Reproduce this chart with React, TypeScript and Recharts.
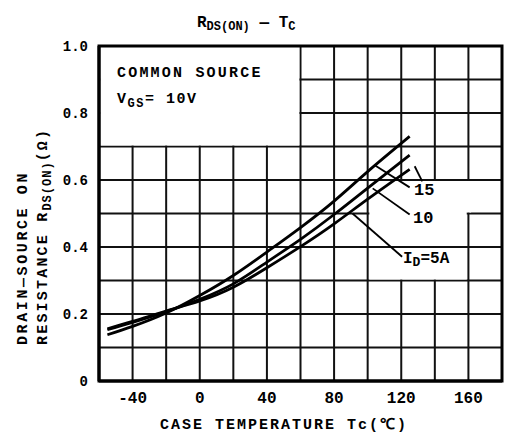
import { LineChart, Line, XAxis, YAxis, CartesianGrid, ReferenceArea, ReferenceLine } from 'recharts';

const temps = [-55, -40, -20, 0, 20, 40, 60, 80, 100, 125];
const id15 = [0.138, 0.163, 0.203, 0.255, 0.315, 0.385, 0.458, 0.537, 0.625, 0.73];
const id10 = [0.153, 0.175, 0.207, 0.244, 0.29, 0.355, 0.423, 0.497, 0.576, 0.674];
const id5 = [0.156, 0.178, 0.209, 0.239, 0.28, 0.338, 0.401, 0.469, 0.543, 0.632];

const xTicks = [-60, -40, -20, 0, 20, 40, 60, 80, 100, 120, 140, 160, 180];
const xLabelled = [-40, 0, 40, 80, 120, 160];
const yTicks = [0, 0.1, 0.2, 0.3, 0.4, 0.5, 0.6, 0.7, 0.8, 0.9, 1.0];
const yLabelled = [0, 0.2, 0.4, 0.6, 0.8, 1.0];

// blank patches in the grid (legend box, curve labels)
const blanks = [
  { x1: -59.3, x2: 59.3, y1: 0.703, y2: 0.997 },
  { x1: 101, x2: 159, y1: 0.403, y2: 0.597 },
  { x1: 159, x2: 161.6, y1: 0.503, y2: 0.597 },
  { x1: 101, x2: 159, y1: 0.303, y2: 0.397 },
];

// leader lines from curves to their labels
const leaders = [
  [{ x: 104, y: 0.645 }, { x: 125, y: 0.578 }],
  [{ x: 128, y: 0.641 }, { x: 132.5, y: 0.596 }],
  [{ x: 103, y: 0.575 }, { x: 125, y: 0.497 }],
  [{ x: 91, y: 0.5 }, { x: 120.5, y: 0.371 }],
];

const data = temps.map((t, i) => ({ t, a15: id15[i], a10: id10[i], a5: id5[i] }));

const font = '"Liberation Mono", "DejaVu Sans Mono", monospace';

export default function App() {
  return (
    <div style={{ position: 'absolute', left: 0, top: 0, width: 506, height: 435, background: '#fff' }}>
      <LineChart width={506} height={435} data={data} margin={{ top: 46, right: 4, bottom: 0, left: 0 }}>
        <CartesianGrid stroke="#111" strokeWidth={2} />
        {blanks.map((b, i) => (
          <ReferenceArea key={i} x1={b.x1} x2={b.x2} y1={b.y1} y2={b.y2} fill="#fff" fillOpacity={1} stroke="none" />
        ))}
        <ReferenceArea x1={-60} x2={180} y1={0} y2={1} fill="none" stroke="#000" strokeWidth={3} />
        <XAxis
          dataKey="t"
          type="number"
          domain={[-60, 180]}
          ticks={xTicks}
          interval={0}
          height={54}
          tickLine={false}
          tickSize={0}
          tickMargin={11}
          axisLine={{ stroke: '#000', strokeWidth: 3 }}
          tickFormatter={(v: number) => (xLabelled.includes(v) ? String(v) : '')}
          tick={{ fill: '#000', fontSize: 16, fontWeight: 700, fontFamily: font }}
        />
        <YAxis
          type="number"
          domain={[0, 1]}
          ticks={yTicks}
          interval={0}
          width={99}
          tickLine={false}
          tickSize={0}
          tickMargin={11}
          axisLine={{ stroke: '#000', strokeWidth: 3 }}
          tickFormatter={(v: number) =>
            yLabelled.some((l) => Math.abs(l - v) < 1e-6) ? (v === 0 ? '0' : v.toFixed(1)) : ''
          }
          tick={{ fill: '#000', fontSize: 14, fontWeight: 700, fontFamily: font }}
        />
        <Line dataKey="a15" type="natural" stroke="#000" strokeWidth={2.8} dot={false} isAnimationActive={false} />
        <Line dataKey="a10" type="natural" stroke="#000" strokeWidth={2.8} dot={false} isAnimationActive={false} />
        <Line dataKey="a5" type="natural" stroke="#000" strokeWidth={2.8} dot={false} isAnimationActive={false} />
        {leaders.map((s, i) => (
          <ReferenceLine key={i} segment={s} stroke="#000" strokeWidth={1.8} />
        ))}
      </LineChart>
      <svg width={506} height={435} style={{ position: 'absolute', left: 0, top: 0, pointerEvents: 'none' }}
        fontFamily={font} fontWeight={700} fill="#000">
        <text x={197} y={27} fontSize={16}>
          R<tspan fontSize={12} dy={3}>DS(ON)</tspan>
          <tspan fontSize={16} dy={-3}> — T</tspan>
          <tspan fontSize={12} dy={3}>C</tspan>
        </text>
        <text x={117} y={77} fontSize={15} letterSpacing={2.2}>COMMON SOURCE</text>
        <text x={117} y={103} fontSize={15} letterSpacing={1.5}>
          V<tspan fontSize={12} dy={4}>GS</tspan>
          <tspan fontSize={15} dy={-4}>= 10V</tspan>
        </text>
        <text x={414} y={195} fontSize={17}>15</text>
        <text x={413} y={223} fontSize={17}>10</text>
        <text x={403} y={263} fontSize={16}>
          I<tspan fontSize={13} dy={3}>D</tspan>
          <tspan fontSize={16} dy={-3}>=5A</tspan>
        </text>
        <text x={284} y={429} fontSize={15} letterSpacing={2} textAnchor="middle">CASE TEMPERATURE Tc(℃)</text>
        <text x={27} y={345} fontSize={15} letterSpacing={2.6} transform="rotate(-90 27 345)">DRAIN—SOURCE ON</text>
        <text x={47} y={345} fontSize={15} letterSpacing={2.2} transform="rotate(-90 47 345)">
          RESISTANCE R<tspan fontSize={12} dy={4} letterSpacing={1}>DS(ON)</tspan>
          <tspan fontSize={15} dy={-4}>(Ω)</tspan>
        </text>
      </svg>
    </div>
  );
}
